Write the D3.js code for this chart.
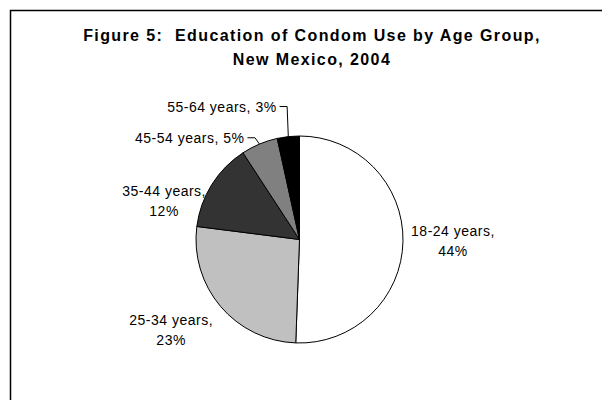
<!DOCTYPE html>
<html>
<head>
<meta charset="utf-8">
<script src="https://cdn.jsdelivr.net/npm/d3@7"></script>
<style>
body {
  margin: 0;
  background-color: white;
}
text {
  font-family: "Liberation Sans", Arial, sans-serif;
  fill: black;
  white-space: pre;
}
</style>
</head>
<body>
<script>
const categories = ["18-24 years", "25-34 years", "35-44 years", "45-54 years", "55-64 years"];
const values = [44, 23, 12, 5, 3];
const colors = ["#ffffff", "#c0c0c0", "#333333", "#808080", "#000000"];
const titleLines = ["Figure 5:  Education of Condom Use by Age Group,", "New Mexico, 2004"];

// label layout: offset from the slice's outer edge point, two-line or one-line with leader
const labelLayout = [
  {dx: 50, dy: -5, anchor: "middle", split: true},
  {dx: -49.5, dy: 18.6, anchor: "middle", split: true},
  {dx: -47.7, dy: 11.3, anchor: "middle", split: true},
  {dx: -15, dy: -0.8, anchor: "end", split: false, leader: true},
  {dx: -11.7, dy: -24.6, anchor: "end", split: false, leader: true}
];

const W = 602, H = 400;
const svg = d3.select("body").append("svg")
              .attr("width", W)
              .attr("height", H);

// chart area frame (runs off the right and bottom of the picture)
svg.append("rect")
   .attr("x", 10.5).attr("y", 10.5)
   .attr("width", 700).attr("height", 500)
   .attr("fill", "none")
   .attr("stroke", "black")
   .attr("stroke-width", 1.5);

svg.selectAll("text.title")
   .data(titleLines)
   .enter().append("text")
   .attr("class", "title")
   .attr("x", 312)
   .attr("y", (d, i) => 40.5 + i * 24)
   .attr("text-anchor", "middle")
   .style("font-size", "16px")
   .style("font-weight", "bold")
   .style("letter-spacing", "1.4px")
   .text(d => d);

const cx = 299.5, cy = 239.5, R = 103.5;
const g = svg.append("g").attr("transform", `translate(${cx}, ${cy})`);

const pie = d3.pie().sort(null).value(d => d);
const arcs = pie(values);
const arc = d3.arc().innerRadius(0).outerRadius(R);
const edge = d3.arc().innerRadius(R).outerRadius(R);

g.selectAll("path")
 .data(arcs)
 .enter().append("path")
 .attr("d", arc)
 .attr("fill", (d, i) => colors[i])
 .attr("stroke", "black")
 .attr("stroke-width", 1)
 .attr("stroke-linejoin", "round");

arcs.forEach((a, i) => {
  const lay = labelLayout[i];
  const [ox, oy] = edge.centroid(a);
  const x = ox + lay.dx, y = oy + lay.dy;
  const t = g.append("text")
             .attr("text-anchor", lay.anchor)
             .style("font-size", "14px")
             .style("letter-spacing", "0.5px");
  if (lay.split) {
    t.append("tspan").attr("x", x).attr("y", y).text(categories[i] + ",");
    t.append("tspan").attr("x", x).attr("y", y + 20).text(values[i] + "%");
  } else {
    t.attr("x", x).attr("y", y).text(categories[i] + ", " + values[i] + "%");
  }
  if (lay.leader) {
    const my = y - 5.5;
    g.append("polyline")
     .attr("points", [[ox, oy], [x + 10.5, my], [x + 3, my]].map(p => p.join(",")).join(" "))
     .attr("fill", "none")
     .attr("stroke", "black")
     .attr("stroke-width", 1);
  }
});
</script>
</body>
</html>
